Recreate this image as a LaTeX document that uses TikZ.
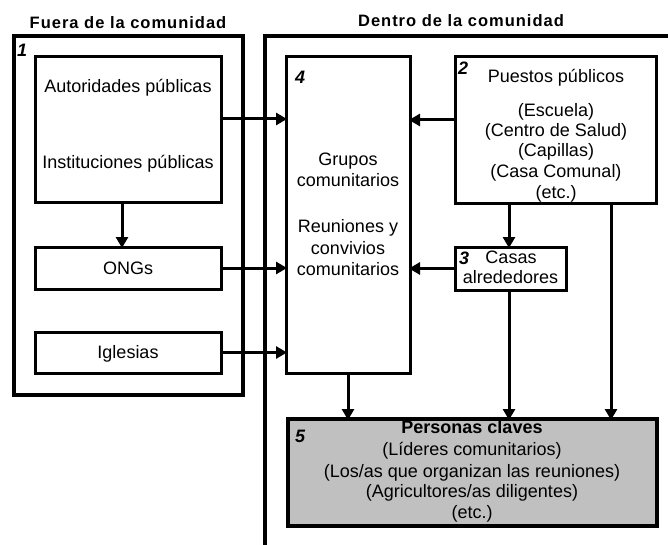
\documentclass[tikz,border=0pt]{standalone}
\usepackage{fontspec}
\setmainfont{Liberation Sans}
\newfontfamily\hdrfont[LetterSpace=6]{Liberation Sans}
\usetikzlibrary{arrows.meta}
\definecolor{boxgray}{RGB}{192,192,192}
\tikzset{
  frame/.style={line width=4pt},
  box/.style={draw, line width=3pt, rectangle, outer sep=0pt, inner sep=0pt},
  keybox/.style={draw, line width=4pt, rectangle, outer sep=0pt, inner sep=0pt, fill=boxgray},
  arr/.style={line width=3pt, -{Triangle[length=11pt,width=12pt]}, shorten >=-1pt},
  txt/.style={anchor=base, inner sep=0pt, font=\fontsize{18}{21}\selectfont},
  btxt/.style={anchor=base, inner sep=0pt, font=\fontsize{18}{21}\selectfont\bfseries},
  hdr/.style={anchor=base, inner sep=0pt, font=\fontsize{16.5}{20}\hdrfont\bfseries},
  num/.style={anchor=base west, inner sep=0pt, font=\fontsize{18}{21}\selectfont\bfseries\itshape},
}
\begin{document}
\begin{tikzpicture}[x=1pt,y=-1pt]
\useasboundingbox (0,0) rectangle (668,545);
% frames
\draw[frame] (14,36) rectangle (243,395);
\draw[frame] (265,545) -- (265,36) -- (668,36);
% boxes
\node[box, minimum width=186pt, minimum height=146pt] (autor) at (128,130) {};
\node[box, minimum width=186pt, minimum height=42pt] (ongs) at (128,268) {};
\node[box, minimum width=186pt, minimum height=41pt] (igl) at (128,352.5) {};
\node[box, minimum width=124pt, minimum height=316pt] (g4) at (348,215) {};
\node[box, minimum width=201pt, minimum height=147pt] (p2) at (555.5,130.5) {};
\node[box, minimum width=111pt, minimum height=43pt] (c3) at (510.5,268.5) {};
\node[keybox, minimum width=369pt, minimum height=107pt] (p5) at (472.5,472.5) {};
% headers
\node[hdr] (hfuera) at (128,29) {Fuera de la comunidad};
\node[hdr] (hdentro) at (461,27) {Dentro de la comunidad};
% numbers
\node[num] (n1) at (17,57) {1};
\node[num] (n4) at (295,84) {4};
\node[num] (n2) at (458,75) {2};
\node[num] (n3) at (459,264) {3};
\node[num] (n5) at (295,442) {5};
% texts
\node[txt] (t1) at (128,93) {Autoridades públicas};
\node[txt] (t2) at (128,169) {Instituciones públicas};
\node[txt] (t3) at (128,274) {ONGs};
\node[txt] (t4) at (128,358) {Iglesias};
\node[txt] (t5) at (348,166) {Grupos};
\node[txt] (t6) at (348,187) {comunitarios};
\node[txt] (t7) at (348,232) {Reuniones y};
\node[txt] (t8) at (348,254) {convivios};
\node[txt] (t9) at (348,275) {comunitarios};
\node[txt] (t10) at (556,83) {Puestos públicos};
\node[txt] (t11) at (556,117) {(Escuela)};
\node[txt] (t12) at (556,137) {(Centro de Salud)};
\node[txt] (t13) at (556,157) {(Capillas)};
\node[txt] (t14) at (556,178) {(Casa Comunal)};
\node[txt] (t15) at (556,198) {(etc.)};
\node[txt] (t16) at (511,263) {Casas};
\node[txt] (t17) at (510.5,283) {alrededores};
\node[btxt] (t18) at (472,433) {Personas claves};
\node[txt] (t19) at (472,455) {(Líderes comunitarios)};
\node[txt] (t20) at (472,477) {(Los/as que organizan las reuniones)};
\node[txt] (t21) at (472,497) {(Agricultores/as diligentes)};
\node[txt] (t22) at (472,518) {(etc.)};
% helper coordinates
\coordinate (ya) at (0,119);
\coordinate (yb) at (0,120);
\coordinate (xa) at (122,0);
\coordinate (xb) at (611,0);
\coordinate (xc) at (509,0);
% arrows
\draw[arr] (autor.east |- ya) -- (g4.west |- ya);
\draw[arr] (autor.south -| xa) -- (ongs.north -| xa);
\draw[arr] (ongs.east) -- (ongs.east -| g4.west);
\draw[arr] (igl.east) -- (igl.east -| g4.west);
\draw[arr] (p2.west |- yb) -- (g4.east |- yb);
\draw[arr] (p2.south -| xc) -- (c3.north -| xc);
\draw[arr] (p2.south -| xb) -- (p5.north -| xb);
\draw[arr] (c3.west) -- (c3.west -| g4.east);
\draw[arr] (c3.south -| xc) -- (p5.north -| xc);
\draw[arr] (g4.south) -- (g4.south |- p5.north);
\end{tikzpicture}
\end{document}
